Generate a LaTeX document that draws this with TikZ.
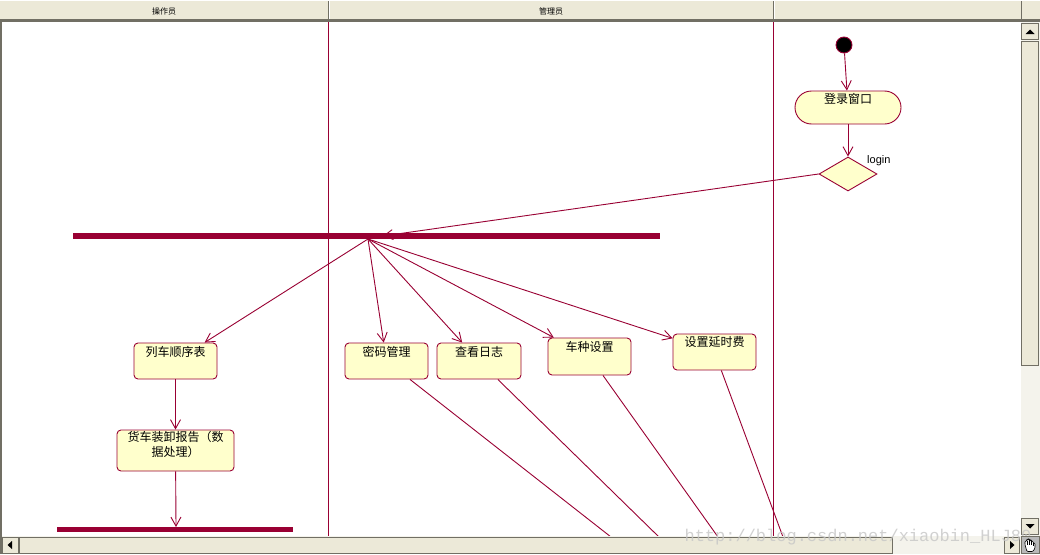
\documentclass[tikz,border=0pt]{standalone}
\usepackage{fontspec}
\setmainfont{Liberation Sans}
\newfontfamily\cjk{Noto Sans CJK SC}
\newfontfamily\wm{Liberation Mono}
\usetikzlibrary{arrows.meta,shapes.geometric}
\definecolor{beige}{HTML}{ECE9D8}
\definecolor{crim}{HTML}{990033}
\definecolor{boxfill}{HTML}{FFFFCC}
\definecolor{track}{HTML}{F4F3EC}
\definecolor{dgray}{HTML}{716F64}
\tikzset{
  conn/.style={draw=crim,line width=0.9pt},
  arr/.style={conn,-{Straight Barb[length=9pt,width=10pt,line width=0.9pt]}},
  act/.style={draw=crim,fill=boxfill,line width=0.9pt,rounded corners=4pt,rectangle,inner sep=0pt},
  acttext/.style={font=\cjk\fontsize{12}{15}\selectfont,inner sep=0pt,align=center},
  bar/.style={fill=crim,draw=none,inner sep=0pt,rectangle},
  lane/.style={draw=crim,line width=0.9pt},
  btn/.style={fill=beige,draw=dgray,line width=0.8pt},
  hdr/.style={font=\cjk\fontsize{8}{8}\selectfont,inner sep=0pt},
  finger/.style={draw=black,fill=white,line width=0.6pt,rounded corners=1pt}
}
\begin{document}
\begin{tikzpicture}[x=1pt,y=-1pt]
\useasboundingbox (0,0) rectangle (1040,554);
% background
\fill[white] (0,0) rectangle (1040,554);
% header
\fill[beige] (0,0) rectangle (1040,20);
\draw[white,line width=1pt] (0,0.5) -- (1040,0.5);
\fill[dgray] (0,19) rectangle (1040,22);
\draw[dgray,line width=1pt] (328,1) -- (328,19);
\draw[white,line width=1pt] (329.5,1) -- (329.5,19);
\draw[dgray,line width=1pt] (773,1) -- (773,19);
\draw[white,line width=1pt] (774.5,1) -- (774.5,19);
\draw[dgray,line width=1pt] (1021,1) -- (1021,19);
\node[hdr] (h1) at (164,11) {操作员};
\node[hdr] (h2) at (551,11) {管理员};
% left frame
\fill[dgray] (0,19) rectangle (2,554);
% swimlanes
\draw[lane] (328,22) -- (328,536);
\draw[lane] (773,22) -- (773,536);

% nodes
\node[circle,fill=black,draw=crim,line width=0.9pt,minimum size=16pt,inner sep=0pt] (st) at (844,45) {};
\node[act,rounded corners=16.5pt,minimum width=106pt,minimum height=33pt] (lg) at (848,107.5) {};
\node[acttext] (lgt) at ([yshift=-8.5pt]lg.north) {登录窗口};
\node[diamond,draw=crim,fill=boxfill,line width=0.9pt,inner sep=0pt,minimum width=58pt,minimum height=34pt,shape aspect=1.7] (dm) at (848,174) {};
\node[anchor=west,inner sep=0pt,font=\fontsize{11}{11}\selectfont] (lgn) at (867,161) {login};

\node[bar,minimum width=587pt,minimum height=6pt] (fork) at (366.5,236) {};
\coordinate (fin) at (383,236);
\coordinate (fout) at (368,239);

\node[act,minimum width=83pt,minimum height=36pt] (lst) at (175.5,361) {};
\node[acttext] (lstt) at ([yshift=-9pt]lst.north) {列车顺序表};
\node[act,minimum width=83pt,minimum height=36pt] (mm) at (386.5,361) {};
\node[acttext] (mmt) at ([yshift=-9pt]mm.north) {密码管理};
\node[act,minimum width=84pt,minimum height=36pt] (rz) at (479,361) {};
\node[acttext] (rzt) at ([yshift=-9pt]rz.north) {查看日志};
\node[act,minimum width=83pt,minimum height=37pt] (cz) at (589.5,356.5) {};
\node[acttext] (czt) at ([yshift=-9pt]cz.north) {车种设置};
\node[act,minimum width=83pt,minimum height=36pt] (yf) at (714.5,352) {};
\node[acttext] (yft) at ([yshift=-8pt]yf.north) {设置延时费};
\node[act,minimum width=117pt,minimum height=41pt] (hc) at (175.5,450.5) {};
\node[acttext,anchor=north] (hct) at ([yshift=-1pt]hc.north) {货车装卸报告（数\\据处理）};

\node[bar,minimum width=236pt,minimum height=5pt] (join) at (175,529.5) {};
\coordinate (jin) at (176,527);

\coordinate (e1) at (611,537);
\coordinate (e2) at (659,537);
\coordinate (e3) at (718,537);
\coordinate (e4) at (783,537);

% connectors
\draw[arr] (st) -- (lg);
\draw[arr] (lg.south) -- (dm.north);
\draw[arr] (dm.west) -- (fin);
\draw[arr] (fout) -- (lst);
\draw[arr] (fout) -- (mm);
\draw[arr] (fout) -- (rz);
\draw[arr] (fout) -- (cz);
\draw[arr] (fout) -- (yf);
\draw[arr] (lst) -- (hc);
\draw[arr] (hc) -- (jin);
\draw[conn] (mm) -- (e1);
\draw[conn] (rz) -- (e2);
\draw[conn] (cz) -- (e3);
\draw[conn] (yf) -- (e4);

% vertical scrollbar
\fill[track] (1021,22) rectangle (1040,536);
\draw[btn] (1021.5,23.5) rectangle (1038.5,39.5);
\fill[black] (1025.5,34) -- (1034.5,34) -- (1030,29.5) -- cycle;
\draw[btn] (1021.5,41.5) rectangle (1038.5,365);
\draw[btn] (1021.5,518.5) rectangle (1038.5,534.5);
\fill[black] (1025.5,524) -- (1034.5,524) -- (1030,528.5) -- cycle;
% horizontal scrollbar
\fill[track] (0,536) rectangle (1040,554);
\fill[dgray] (0,536) rectangle (2,554);
\draw[btn] (2.5,537.5) rectangle (18.5,553);
\fill[black] (12,541) -- (12,549) -- (7.5,545) -- cycle;
\draw[btn] (19.5,537.5) rectangle (892,553);
\draw[btn] (1004.5,537.5) rectangle (1019.5,553);
\fill[black] (1010,541) -- (1010,549) -- (1014.5,545) -- cycle;
% watermark
\node[inner sep=0pt,text=gray!45,opacity=0.8,font=\wm\fontsize{17}{17}\selectfont] (wmk) at (858,537) {http://blog.csdn.net/xiaobin\_HLJ80};
% hand icon box
\fill[gray!55] (1021,536) rectangle (1040,554);
\draw[dgray,line width=0.8pt] (1021.5,536.5) rectangle (1039,553.5);
\draw[finger] (1025,545) -- (1025,541) -- (1027,541) -- (1027,540) -- (1027,539) -- (1029,539) -- (1029,540) -- (1031,540) -- (1031,541) -- (1033,541) -- (1033,543) -- (1035,543) -- (1035,548) -- (1033,551.5) -- (1027,551.5) -- cycle;
\draw[black,line width=0.5pt] (1027,541) -- (1027,545) (1029,540) -- (1029,545) (1031,541) -- (1031,545) (1033,543) -- (1033,546);
\end{tikzpicture}
\end{document}
